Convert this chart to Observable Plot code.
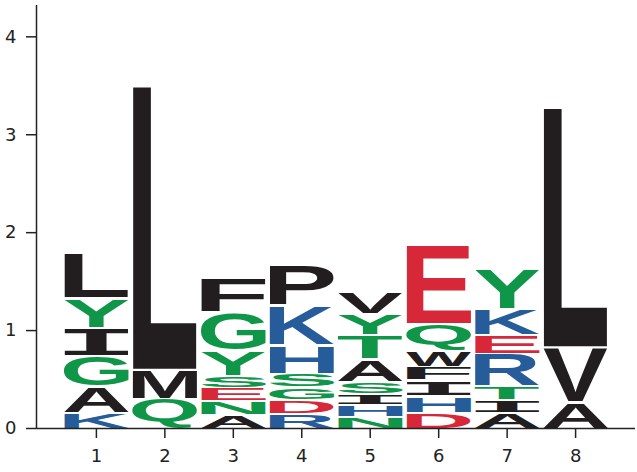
<!DOCTYPE html>
<html>
<head>
<meta charset="utf-8">
<script src="https://cdn.jsdelivr.net/npm/d3@7"></script>
<script src="https://cdn.jsdelivr.net/npm/@observablehq/plot@0.6"></script>
<style>
  html, body { margin: 0; padding: 0; background: #fff; }
  #chart svg { display: block; }
</style>
</head>
<body>
<div id="chart"></div>
<script>
// Sequence-logo data: positions, letters (bottom to top) and their heights (bits)
const positions = [1, 2, 3, 4, 5, 6, 7, 8];
const letters = [
  ["K", "A", "G", "I", "Y", "L"],
  ["Q", "M", "L"],
  ["A", "N", "E", "S", "Y", "G", "F"],
  ["R", "D", "G", "S", "H", "K", "P"],
  ["N", "H", "I", "S", "A", "T", "Y", "V"],
  ["D", "H", "I", "F", "W", "Q", "E"],
  ["A", "I", "T", "R", "E", "K", "Y"],
  ["A", "V", "L"]
];
const heights = [
  [0.16, 0.27, 0.31, 0.29, 0.30, 0.47],
  [0.30, 0.30, 2.90],
  [0.14, 0.14, 0.13, 0.13, 0.26, 0.38, 0.35],
  [0.15, 0.14, 0.13, 0.14, 0.29, 0.41, 0.42],
  [0.12, 0.12, 0.11, 0.13, 0.23, 0.25, 0.21, 0.23],
  [0.16, 0.17, 0.16, 0.14, 0.16, 0.28, 0.80],
  [0.16, 0.13, 0.14, 0.33, 0.19, 0.27, 0.41],
  [0.27, 0.56, 2.45]
];
const yTicks = [0, 1, 2, 3, 4];
const groupNames = ["hydrophobic", "polar", "basic", "acidic"];
const groupColors = ["#221e1f", "#109648", "#255c99", "#d62839"];
const groupLetters = {
  hydrophobic: "LIAFPVMWC",
  polar: "YGSTQN",
  basic: "KHR",
  acidic: "ED"
};

const groupOf = (l) => groupNames.find((g) => groupLetters[g].includes(l));

// build a stacked table
const table = [];
positions.forEach((pos, i) => {
  let acc = 0;
  letters[i].forEach((l, j) => {
    const h = heights[i][j];
    table.push({pos, letter: l, y1: acc, y2: acc + h, group: groupOf(l)});
    acc += h;
  });
});

const FONT = "Liberation Sans";
const SERIF_I_FONT = "Liberation Mono"; // "I" drawn with bars, as in the reference
const chart = Plot.plot({
  width: 637,
  height: 472,
  marginLeft: 36,
  marginRight: 2,
  marginTop: 5,
  marginBottom: 44,
  style: {fontFamily: "DejaVu Sans", fontSize: "18px", color: "#222", background: "#fff"},
  x: {domain: [0.125, 8.875], axis: null},
  y: {domain: [0, 4.32], axis: null},
  color: {domain: groupNames, range: groupColors},
  marks: [
    Plot.text(table, {
      x: "pos", y: "y1", text: "letter", fill: "group",
      fontFamily: FONT, fontWeight: "bold", fontSize: 100,
      textAnchor: "start", lineAnchor: "bottom"
    }),
    Plot.axisY({ticks: yTicks, tickFormat: "d", label: null, tickSize: 10, tickPadding: 10, fontSize: 18, stroke: "#222", strokeWidth: 1.5}),
    Plot.axisX({ticks: positions, tickFormat: "d", label: null, tickSize: 10, tickPadding: 11, fontSize: 18, stroke: "#222", strokeWidth: 1.5}),
    Plot.ruleX([0.125], {stroke: "#222", strokeWidth: 1.5}),
    Plot.ruleY([0], {stroke: "#222", strokeWidth: 1.5})
  ]
});
document.getElementById("chart").append(chart);

// Stretch each glyph to fill its box, using the plot's own scales
const xs = chart.scale("x"), ys = chart.scale("y");
const ctx = document.createElement("canvas").getContext("2d");
const glyphGroup = Array.from(chart.querySelectorAll("g")).find((g) => g.getAttribute("font-weight") === "bold");
const texts = glyphGroup.querySelectorAll("text");
texts.forEach((t, i) => {
  const d = table[i];
  const fam = d.letter === "I" ? SERIF_I_FONT : FONT;
  ctx.font = `bold 100px "${fam}"`;
  const m = ctx.measureText(d.letter);
  const L = m.actualBoundingBoxLeft, R = m.actualBoundingBoxRight;
  const A = m.actualBoundingBoxAscent, D = m.actualBoundingBoxDescent;
  const x0 = xs.apply(d.pos - 0.475), x1 = xs.apply(d.pos + 0.475);
  const ytop = ys.apply(d.y2) + 1, ybot = ys.apply(d.y1) - 1;
  const sx = (x1 - x0) / (L + R), sy = (ybot - ytop) / (A + D);
  t.removeAttribute("x"); t.removeAttribute("y"); t.removeAttribute("dy");
  t.setAttribute("font-family", fam);
  t.setAttribute("text-anchor", "start");
  t.setAttribute("transform", `translate(${x0 + L * sx},${ytop + A * sy}) scale(${sx},${sy})`);
});
</script>
</body>
</html>
